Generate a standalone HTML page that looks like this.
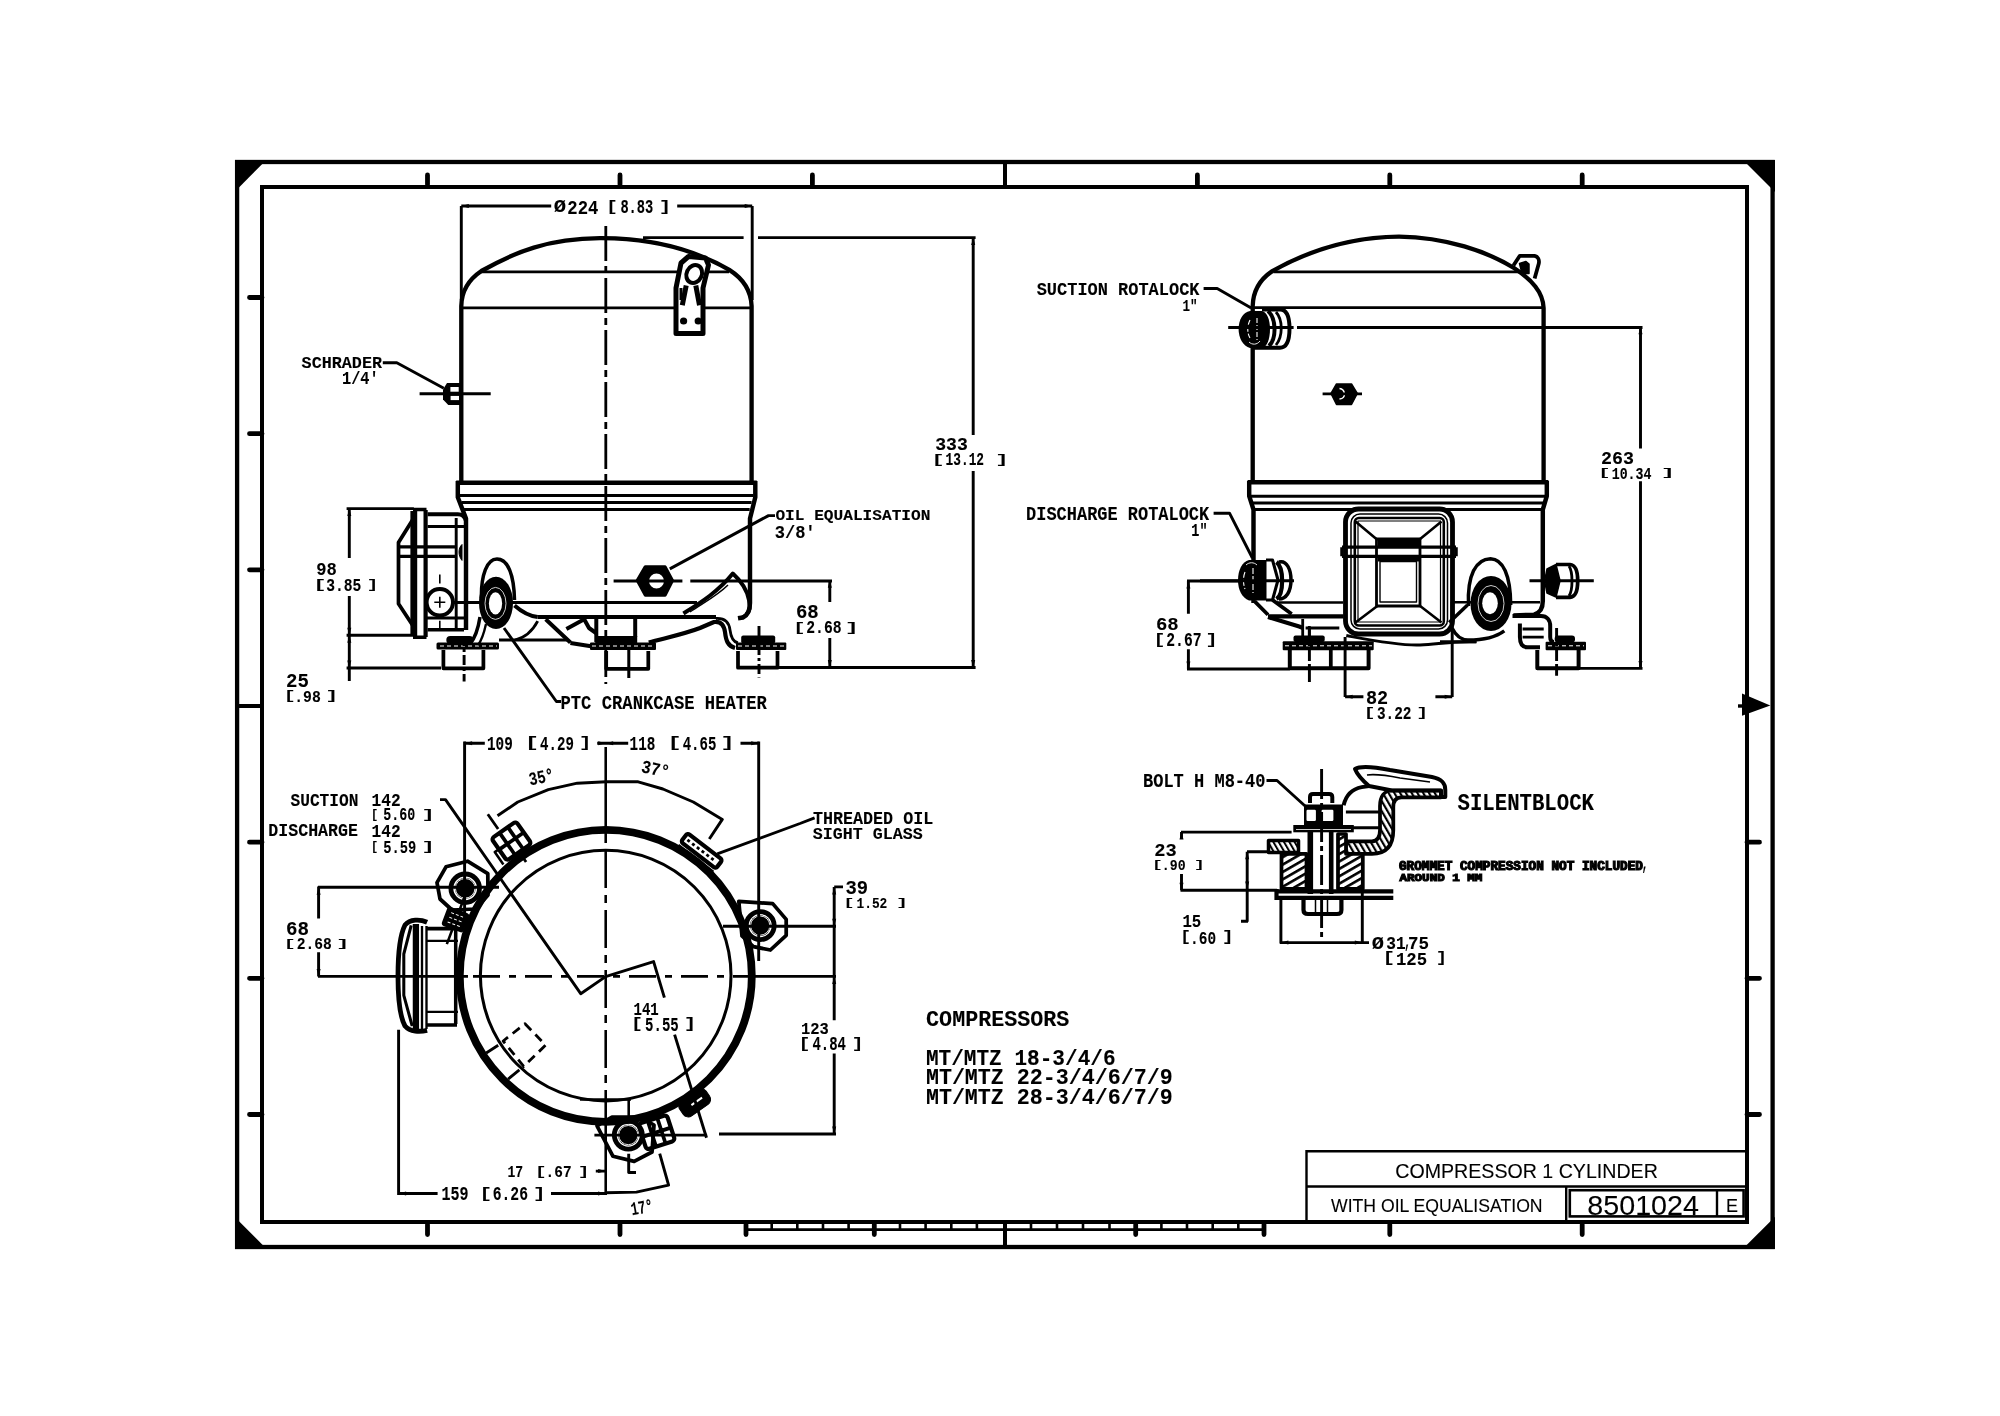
<!DOCTYPE html>
<html><head><meta charset="utf-8">
<style>
html,body{margin:0;padding:0;background:#fff;width:2000px;height:1416px;overflow:hidden}
svg{display:block;filter:grayscale(1)}
.c{font-family:"Liberation Mono",monospace;font-weight:bold}
.s{font-family:"Liberation Sans",sans-serif}
</style></head><body>
<svg width="2000" height="1416" viewBox="0 0 2000 1416">
<rect width="2000" height="1416" fill="#fff"/>
<!-- FRAME -->
<g id="frame" fill="none" stroke="#000">
<rect x="237.1" y="162" width="1535.5" height="1085" stroke-width="4.3"/>
<rect x="262" y="187" width="1485" height="1035" stroke-width="4"/>
<g stroke-width="4.8" stroke-linecap="round">
<path d="M427.5 175V184.5M620 175V184.5M812.4 175V184.5M1197.4 175V184.5M1389.8 175V184.5M1582.2 175V184.5"/>
<path d="M427.5 1224.5V1234.5M620 1224.5V1234.5M1389.8 1224.5V1234.5M1582.2 1224.5V1234.5"/>
<path d="M249.5 297.5H262M249.5 433.7H262M249.5 569.8H262M249.5 842.2H262M249.5 978.3H262M249.5 1114.5H262"/>
<path d="M1747 842.2H1759.5M1747 978.3H1759.5M1747 1114.5H1759.5"/>
</g>
<path d="M1005 162V187M1005 1222V1247M237 706H262" stroke-width="4"/>
<!-- bottom ruler -->
<path d="M746 1229.6H1264" stroke-width="2.6"/>
<path d="M771.7 1222V1229M797.3 1222V1229M823 1222V1229M848.6 1222V1229M900 1222V1229M925.6 1222V1229M951.3 1222V1229M976.9 1222V1229M1031 1222V1229M1057 1222V1229M1083 1222V1229M1109.5 1222V1229M1161.4 1222V1229M1187 1222V1229M1212.7 1222V1229M1238.3 1222V1229" stroke-width="2.6"/>
<path d="M746 1224.5V1234.5M874.3 1224.5V1234.5M1135.7 1224.5V1234.5M1264 1224.5V1234.5" stroke-width="4.8" stroke-linecap="round"/>
</g>
<g fill="#000">
<polygon points="235,160 266.3,160 235,191.4"/>
<polygon points="1743,160 1775,160 1775,192"/>
<polygon points="235,1217.3 235,1249 266.7,1249"/>
<polygon points="1775,1216.7 1775,1249 1742.7,1249"/>
<polygon points="1742,693.4 1770.3,705.4 1742,715.7"/>
<rect x="1738" y="704.3" width="5" height="3.4"/>
</g>

<!-- FRONT VIEW -->
<g id="fv" fill="none" stroke="#000" stroke-linejoin="round">
<path d="M461.3 483V306 C461.5 292 468 280 481.4 271 C515 252 548 238.5 600 238.2 C652 238 695 250 729.3 269.9 C742 278 751 290 751.6 306 V483" stroke-width="4.33"/>
<path d="M481 271.9H729M461.3 307.8H751.6" stroke-width="2.69"/>
<path d="M456.2 482.7H756.8" stroke-width="4.45"/>
<path d="M457.8 481V497.3L466 518.5V630" stroke-width="4.45"/>
<path d="M755.3 481V497.3L750 518.5V603 C750 610 748 615 743 617.5 L738 618.3" stroke-width="4.45"/>
<path d="M459.7 495.5H753.5M461.6 502.4H751.6M463.5 509.5H749.7" stroke-width="3.04"/>
<path d="M537.7 617H716" stroke-width="4.20"/>
<path d="M453.5 602.5H697" stroke-width="2.92"/>
<!-- center line -->
<path d="M605.8 226V684" stroke-width="2.81" stroke-dasharray="35 5 7 5"/>
<!-- oil eq nut -->
<polygon points="637.5,580.5 645.4,567 665,567 672.3,580.5 665,595 645.4,595" fill="#000" stroke-width="3.51"/>
<circle cx="656.5" cy="581" r="8.4" fill="#fff" stroke-width="1.8"/>
<path d="M613.6 581H682.4M690.3 581H832" stroke-width="2.92"/>
<path d="M669.8 568.9L768.5 515.6H775" stroke-width="2.92"/>
<!-- right bracket -->
<path d="M683.4 613.5 C700 603 718 592 732.8 573.6 C741 581 747 590 749 600 C751 609 748 615 742 617.5" stroke-width="3.98"/>
<path d="M690 612 C705 602 718 595 728 585" stroke-width="1.5"/>
<path d="M648.8 642.5 C665 638 684.5 634 700 628 L714 622 C721 621 724 625 725 632 C726 641 728 646 735 648" stroke-width="4.21"/>
<path d="M716 618.5 C724 618 729 622 730 630 C731 638 733 642 738 643" stroke-width="2.81"/>
<!-- middle bracket -->
<path d="M545.7 619.2L570.4 642.5M566.4 629L584.2 619.2L589 628L596 633M570.4 643L602 648" stroke-width="4"/>
<path d="M499 640H567.4" stroke-width="3"/>
<path d="M596.3 619V642M635.2 619V637" stroke-width="3.98"/>
<path d="M514.5 605.4 C522 612 530 616 537.7 617" stroke-width="3.98"/>
<path d="M537.7 621.2 C532 632 524 638 515 640" stroke-width="2.81"/>
<!-- feet -->
<g fill="#000" stroke="none">
<rect x="436.5" y="642.5" width="62.5" height="7" rx="1.5"/>
<rect x="446.3" y="636" width="27.2" height="8" rx="4"/>
<rect x="590" y="642.5" width="66" height="7.5" rx="1"/>
<rect x="595.2" y="636" width="42" height="8"/>
<rect x="736" y="642.5" width="50.3" height="7.5" rx="1"/>
<rect x="741.2" y="635.6" width="34" height="8" rx="2"/>
</g>
<path d="M440 646H497M592 646H654M738 646H785" stroke="#fff" stroke-width="1" stroke-dasharray="4 3"/>
<path d="M443.4 650V668.3H483.4V650M606.2 651V668.8H648.3V651M738 651V667.7H777.5V651" stroke-width="3.74"/>
<path d="M628.8 650V678" stroke-width="3.04"/>
<path d="M464.1 636V681.5M759 626V677.6" stroke-width="2.92" stroke-dasharray="10 3 3 3"/>
<!-- PTC heater -->
<path d="M481.4 598 C481 575 487 559 497 559 C508 559 514 575 514.5 600" stroke-width="3.51"/>
<ellipse cx="496" cy="602.9" rx="17" ry="26.2" fill="#000" stroke="none"/>
<ellipse cx="495.5" cy="603.4" rx="6.6" ry="11.2" fill="#fff" stroke="none"/>
<ellipse cx="495.5" cy="603.4" rx="10.5" ry="16" stroke="#fff" stroke-width="0.8"/>
<path d="M480 617 C478 630 475 638 470 644" stroke-width="3.51"/>
<path d="M486 624 C484 633 482 640 478 645" stroke-width="2.4"/>
<path d="M504 628L556.4 701.5H561" stroke-width="2.92"/>
<!-- terminal box -->
<path d="M413.8 518L398.5 542.4V603.8L413.8 627" stroke-width="3.74"/>
<path d="M413.8 511V636" stroke-width="6.83"/>
<path d="M425.6 510V637" stroke-width="4.20"/>
<path d="M413 509.5H426.5M413 637.3H426.5" stroke-width="3.51"/>
<path d="M427.6 514.3H457.8 C462 514.3 465 517 466 521" stroke-width="3.98"/>
<path d="M456.2 518V628M427.6 526.5H464M424 618H464" stroke-width="2.92"/>
<path d="M427.6 629.7H464" stroke-width="3.51"/>
<path d="M399 546.8H455M399 556.3H455" stroke-width="3.28"/>
<path d="M462 544.5 C458 548 458 556 462 560.4Z" fill="#000" stroke-width="1"/>
<circle cx="439.8" cy="602.2" r="13.2" stroke-width="3.98"/>
<path d="M434.3 602.2H445.3M439.8 596.7V607.7" stroke-width="1.6"/>
<path d="M439.8 574.6V583.6M439.8 620.7V628.7" stroke-width="1.6"/>
<!-- schrader -->
<polygon points="447,383 460,383 460,405 448.3,405 443,399.6 443,389.6" fill="#000" stroke="none"/>
<rect x="450.4" y="387" width="8.3" height="4.7" fill="#fff" stroke="none"/>
<rect x="450.6" y="395.9" width="8.4" height="4.2" fill="#fff" stroke="none"/>
<path d="M419.6 393.7H490.7" stroke-width="2.92"/>
<path d="M382.8 362.8H396.8L443.8 388.3" stroke-width="2.92"/>
<!-- terminal lug top -->
<path d="M676 333.5V288 L681 263 L688.5 256.5 L705.5 258 L708.5 265 L703 288 V333.5Z" fill="#fff" stroke-width="5"/>
<ellipse cx="694.2" cy="274" rx="7.6" ry="9.2" transform="rotate(25 694.2 274)" stroke-width="4"/>
<path d="M686.2 285.5L682.3 305.2M695.8 285.5L699.5 305.2" stroke-width="5"/>
<path d="M681 288V300" stroke-width="3"/>
<circle cx="683.6" cy="321" r="3.6" fill="#000" stroke="none"/>
<circle cx="698.2" cy="321" r="3.6" fill="#000" stroke="none"/>
<!-- dimensions -->
<g stroke-width="2.92">
<path d="M461.3 206V300M752.2 206V300"/>
<path d="M461.3 206H551.2M677.2 206H752.2"/>
<path d="M643 237.6H743.6M758 237.6H975.6M973.2 237.6V435M973.2 471V667.5M779 667.5H975.6"/>
<path d="M829.8 580.3V602M829.8 638V667.5"/>
<path d="M346.6 508.6H413.8M349.3 508.6V558M349.3 596V681M346.6 635.3H413M346.6 668H441"/>
</g>
</g>

<!-- SIDE VIEW -->
<g id="sv" fill="none" stroke="#000" stroke-linejoin="round">
<path d="M1252.7 483V306 C1253 293 1259 280 1272.3 271.1 C1308 251 1352 237 1399 236.6 C1446 237 1488 252 1514 268 C1532 280 1543 292 1543.6 308 V483" stroke-width="4.33"/>
<path d="M1273.5 271.8H1521M1252.7 307.6H1543.6" stroke-width="2.69"/>
<path d="M1247.6 482.2H1548.4" stroke-width="4.45"/>
<path d="M1249.2 481V496L1253.5 509.6V603" stroke-width="4.45"/>
<path d="M1546.8 481V496L1542.8 509.6V601 C1542.8 608 1540 613 1534 614.6 L1513.4 615.5" stroke-width="4.45"/>
<path d="M1249.8 496.2H1546.4M1251 503H1545.4M1252.5 509.6H1543.5" stroke-width="3.04"/>
<!-- top lug -->
<path d="M1513.4 265.5 L1519.8 255.8 H1534.6 C1538 256.5 1539.5 260 1538.8 263.5 L1534.6 278.5" stroke-width="3.8"/>
<path d="M1519.5 263.5 L1526 261.5 L1529 264 V273.5 L1522 273.5Z" fill="#000" stroke="#000" stroke-width="1.5"/>
<!-- suction rotalock -->
<path d="M1250 311 H1262 C1267 312 1270 320 1270 329 C1270 339 1267 347 1262 348 H1250 C1243 346 1238.6 338 1238.6 329 C1238.6 320 1243 312 1250 311Z" fill="#000" stroke="none"/>
<path d="M1262 309.5H1280 C1287 309.5 1289.5 317 1289.5 328.6 C1289.5 340 1287 347.8 1280 347.8H1252" stroke-width="3.98"/>
<path d="M1268 311 C1276 318 1277 338 1269 346" stroke-width="3.98"/>
<path d="M1276 312 C1283 320 1283 336 1276 345" stroke-width="2.81"/>
<path d="M1250 320 C1247 326 1247 333 1250 338M1257 318V340" stroke="#fff" stroke-width="1.1" stroke-dasharray="5 2"/>
<path d="M1249 342 C1252 345 1257 345 1260 341" stroke="#fff" stroke-width="0.9"/>
<path d="M1228.2 327.5H1293.6M1297 327.5H1642.5" stroke-width="2.92"/>
<path d="M1203.6 288.5H1217.2L1251.2 308" stroke-width="2.92"/>
<!-- schrader side -->
<polygon points="1331,393.5 1336.5,384 1351.5,384 1357.3,393.5 1351.5,404.5 1336.5,404.5" fill="#000" stroke="#000" stroke-width="1.5"/>
<path d="M1339.5 388.5 C1345 389 1347 398 1339.5 399" stroke="#fff" stroke-width="1.4"/>
<path d="M1322.6 393.9H1362" stroke-width="2.92"/>
<!-- discharge rotalock -->
<path d="M1249 560 H1266.5 V600.5 H1249 C1242 598 1238 590 1238 580.3 C1238 570 1242 562 1249 560Z" fill="#000" stroke="none"/>
<path d="M1266 560H1272.5 L1278 580 L1272.5 600H1266" stroke-width="3.04"/>
<path d="M1276.5 562 C1284 568 1284 594 1276.5 599" stroke-width="4.20"/>
<path d="M1279 562 C1287 560 1291 570 1291 580 C1291 592 1286 599 1279 599" stroke-width="3.51"/>
<path d="M1245 572 C1243 577 1243 584 1245 589M1253 568V593" stroke="#fff" stroke-width="1.1" stroke-dasharray="6 2"/>
<path d="M1246 565 C1249 562 1254 562 1257 565" stroke="#fff" stroke-width="0.9"/>
<path d="M1200 580.8H1294" stroke-width="2.92"/>
<path d="M1213.6 513.2H1229.5L1252.4 558" stroke-width="2.92"/>
<!-- bracket under discharge -->
<path d="M1254.7 601.4L1268 614.7M1272.5 599.9L1291.7 614" stroke-width="3.74"/>
<path d="M1268 616.3H1343.6" stroke-width="4.20"/>
<path d="M1277 602.5H1343" stroke-width="2.57"/>
<path d="M1268 617L1299.2 626.6 L1303 628" stroke-width="4.21"/>
<path d="M1305.6 628H1339.3M1302.7 619V636M1309.3 626V636" stroke-width="2.81"/>
<!-- terminal box -->
<rect x="1345.5" y="509" width="107" height="125" rx="13" stroke-width="4.83"/>
<rect x="1351" y="514" width="96.5" height="115" rx="9" stroke-width="1.5"/>
<rect x="1354.8" y="518" width="89" height="107.5" rx="4" stroke-width="2.57"/>
<rect x="1358" y="521" width="82.5" height="101" stroke-width="1.2"/>
<rect x="1376.5" y="539" width="43.5" height="67" stroke-width="2.81"/>
<rect x="1380" y="561.5" width="36.5" height="40.5" stroke-width="1.4"/>
<path d="M1355.5 521.5L1377 539.5M1441.5 521.5L1419.5 539.5M1355.5 622.5L1378 605.5M1441.5 622.5L1419.5 605.5" stroke-width="2.57"/>
<rect x="1378" y="538" width="41" height="8" fill="#000" stroke="none"/>
<rect x="1378" y="557" width="41" height="4.5" fill="#000" stroke="none"/>
<path d="M1342 547.2H1456M1342 556.3H1456" stroke-width="3.28"/>
<path d="M1342 547.2V556.3M1456 547.2V556.3" stroke-width="3.51"/>
<!-- right PTC -->
<path d="M1468.5 606 C1467 575 1476 559 1490.5 558.7 C1503 559 1510.5 575 1510.7 605" stroke-width="3.51"/>
<ellipse cx="1491" cy="603.5" rx="20.5" ry="27.5" fill="#000" stroke="none"/>
<ellipse cx="1490" cy="603.2" rx="7.8" ry="11" fill="#fff" stroke="none"/>
<ellipse cx="1491" cy="603.5" rx="13" ry="18" stroke="#fff" stroke-width="0.8"/>
<path d="M1452 628 C1456 636 1461 640 1468 640 C1482 640 1496 637 1504.3 630.8" stroke-width="3.51"/>
<path d="M1467.5 605 L1449.2 622.5" stroke-width="3.51"/>
<path d="M1453.8 602.3H1472M1510 602.3H1540" stroke-width="2.57"/>
<path d="M1440 641.8H1476.7" stroke-width="3.04"/>
<!-- right bracket -->
<path d="M1512.5 616H1541 C1547 616 1550.2 620 1550.2 626V637 C1550.2 640 1551 642 1554 642" stroke-width="3.98"/>
<path d="M1519.9 623.4V637 C1519.9 643 1522 647 1527.2 647.3 H1540" stroke-width="3.98"/>
<path d="M1522.6 629H1543.7M1522.6 637.2H1543.7" stroke-width="2.81"/>
<!-- right small fitting -->
<polygon points="1544.6,580.8 1547,569 1556,564.5 1560,580.8 1556,597 1547,593" fill="#000" stroke="#000" stroke-width="1.5"/>
<path d="M1556 564.5H1570 C1576 565 1577.7 572 1577.7 580.8 C1577.7 590 1576 597 1570 597.3H1556" stroke-width="3.74"/>
<path d="M1569 566 C1573 572 1573 590 1569 596" stroke-width="2.81"/>
<path d="M1529.5 580.8H1593.8" stroke-width="2.92"/>
<!-- feet -->
<g fill="#000" stroke="none">
<rect x="1282.7" y="641.3" width="91" height="9" rx="1"/>
<rect x="1293.5" y="635.6" width="31.2" height="6.5" rx="2"/>
<rect x="1545.6" y="641.8" width="40.4" height="8.5" rx="1"/>
<rect x="1554.7" y="635.4" width="20.3" height="7" rx="3"/>
</g>
<path d="M1285 645.8H1372M1548 645.8H1584" stroke="#fff" stroke-width="1" stroke-dasharray="4 3"/>
<path d="M1289.8 650V668.3H1368.6V650M1537.3 650V668.3H1578.6V650" stroke-width="3.98"/>
<path d="M1330.8 650V668" stroke-width="3.74"/>
<path d="M1309.4 628V683.3M1556.6 628V675.8" stroke-width="2.92" stroke-dasharray="12 3 3 3"/>
<path d="M1346.3 635.6 C1370 640 1400 646 1420 645 C1440 644 1450 641 1476 641.8" stroke-width="3.04"/>
<!-- dims -->
<g stroke-width="2.92">
<path d="M1640.5 326.8V448.6M1640.5 481.3V668.4M1578 668.4H1642.5"/>
<path d="M1188.4 581V613.8M1188.4 649.2V669M1187 581H1240M1187 669H1289.8"/>
<path d="M1345.1 637V697M1345.1 696.8H1363.4M1435.4 696.8H1452.2M1452.2 602V697"/>
</g>
</g>
<!-- TOP VIEW -->
<g id="tv" fill="none" stroke="#000" stroke-linejoin="round">
<circle cx="605.8" cy="975.8" r="146" stroke-width="7.77"/>
<circle cx="605.7" cy="975.6" r="125.3" stroke-width="3.04"/>
<!-- center lines -->
<path d="M605.7 747V842" stroke-width="2.57"/>
<path d="M605.7 842V1094" stroke-width="2.57" stroke-dasharray="38 7 8 7" stroke-dashoffset="-8"/>
<path d="M605.7 1094V1195" stroke-width="2.57"/>
<path d="M318 976.4H468" stroke-width="2.57"/>
<path d="M468 976.4H745" stroke-width="2.57" stroke-dasharray="27 9 7 9" stroke-dashoffset="-5"/>
<path d="M745 976.4H836" stroke-width="2.57"/>
<!-- feet -->
<g stroke-width="3.74">
<polygon points="437,882.7 446,866.8 467.5,861.2 487.8,873.6 488,895 476,909 452,910 440,899"/>
<polygon points="738.8,901.4 772.7,903.6 786.2,919.4 786.2,935.3 770.4,950 753.4,946.6 742,936"/>
<polygon points="597,1125.8 613,1156.3 634.2,1161.4 652,1152 654,1125 640,1117 612,1117"/>
</g>
<g stroke-width="4.83">
<circle cx="465.2" cy="888.3" r="14.3"/>
<circle cx="760.2" cy="925.6" r="14"/>
<circle cx="628.3" cy="1135.1" r="14"/>
</g>
<g fill="#000" stroke="none">
<circle cx="465.2" cy="888.3" r="10.5"/>
<circle cx="760.2" cy="925.6" r="10.3"/>
<circle cx="628.3" cy="1135.1" r="10.3"/>
</g>
<g stroke="#fff" stroke-width="0.9">
<circle cx="465.2" cy="888.3" r="9.8"/>
<circle cx="760.2" cy="925.6" r="9.6"/>
<circle cx="628.3" cy="1135.1" r="9.6"/>
</g>
<!-- suction fitting -->
<g transform="translate(605.8 975.8) rotate(-35)">
<rect x="-15" y="-178" width="30" height="27" rx="3" stroke-width="4.21"/>
<path d="M-15 -164.5H15M-5 -178V-151M5 -178V-151" stroke-width="3.74"/>
<path d="M-4 -200V-182M0 -149V-139" stroke-width="2.81"/>
<path d="M-20 -150V-165H-15" stroke-width="2.57"/>
</g>
<!-- discharge fitting -->
<g transform="translate(605.8 975.8) rotate(-69.5)">
<rect x="-9" y="-171" width="18" height="21" rx="2" fill="#000" stroke-width="2.34"/>
<path d="M-5 -167V-154M0 -167V-154M5 -167V-154" stroke="#fff" stroke-width="1" stroke-dasharray="3 2"/>
<path d="M-26 -160H-9M9 -160H24" stroke-width="2.57"/>
</g>
<!-- sight glass -->
<g transform="translate(605.8 975.8) rotate(37.5)">
<rect x="-22" y="-163" width="44" height="11" rx="2.5" stroke-width="4.21"/>
<path d="M-18 -157.5H18" stroke-width="2.81" stroke-dasharray="3 3"/>
<path d="M-22 -148H22" stroke-width="2.34"/>
</g>
<!-- bottom-right tab -->
<g transform="translate(605.8 975.8) rotate(145)">
<rect x="-16" y="-164" width="32" height="18" rx="6" fill="#000" stroke-width="1"/>
<path d="M-9 -155H4" stroke="#fff" stroke-width="2"/>
</g>
<!-- bottom fitting -->
<g transform="translate(605.8 975.8) rotate(162)">
<rect x="-15" y="-178" width="30" height="27" rx="3" stroke-width="4.21"/>
<path d="M-15 -164.5H15M-5 -178V-151M5 -178V-151" stroke-width="3.74"/>
</g>
<!-- terminal box -->
<path d="M427.1 922.2 C420 919 410 919 405 925 C400 935 398 950 398 976 C398 1002 400 1017 405 1026 C410 1032 420 1032 427.1 1030.3" stroke-width="4.83"/>
<path d="M411.2 925.4L403.8 954V995.3L412.2 1026" stroke-width="3.04"/>
<path d="M415.9 924V1031.4" stroke-width="6.30"/>
<path d="M422 926V1029M426.5 926V1029" stroke-width="2.34"/>
<path d="M427 928.6H457M427 1025H457" stroke-width="3.74"/>
<path d="M427 940.8H458M427 1011.8H458" stroke-width="2.34"/>
<path d="M455.7 926V1024" stroke-width="3.51"/>
<path d="M580 1099.5H631M628.7 1099.5V1117.3" stroke-width="2.57"/>
<!-- dashed square -->
<polygon points="525,1023.7 545.6,1045.2 523.7,1066.4 503.2,1041" stroke-width="2.81" stroke-dasharray="9 6" stroke-linejoin="round"/>
<path d="M486.2 1053L498.2 1045.2M508.1 1079.1L519.4 1069.9" stroke-width="2.81"/>
<!-- dims -->
<g stroke-width="2.92">
<path d="M463.9 743.2H484.8M597.2 743.2H628.2M740.5 743.2H759.1"/>
<path d="M464.6 741.6V921.7M758.7 741.6V961"/>
<path d="M318.6 886.4V918.6M318.6 952.2V976.4M318 887.2H499"/>
<path d="M398.6 1029.7V1195M398.4 1193.5H437.6M551 1193.5H605.6"/>
<path d="M595.8 1171.1H605.6M628.7 1153.7V1172.5H636"/>
<path d="M834.2 886.9V1020.2M834.2 1053.4V1134M834.2 886.9H843M723 926.2H836M719 1134H836M594.4 1135.1H707.1"/>
<path d="M605.6 1192.8L636.4 1192.1L668.6 1185.1L659.7 1153.7"/>
<path d="M497.5 815.8L517.8 802L548.3 789.7L577.3 783.2L606.3 781.8L638.2 781.8L662.9 789L693.3 802L722.3 819.4L709.3 839"/>
<path d="M440 799.6H445.5L580.7 993.7L605.6 976.6L653.6 961.6L664.4 997.6M674.6 1034.6L706.5 1137.7"/>
<path d="M800 823.5L814.6 817.9M800 823.5L717.3 853.9"/>
</g>
</g>
<!-- SILENTBLOCK -->
<defs>
<pattern id="hatch" patternUnits="userSpaceOnUse" width="4.6" height="4.6" patternTransform="rotate(-30)">
<rect width="4.6" height="4.6" fill="#fff"/>
<rect width="2" height="4.6" fill="#000"/>
</pattern>
<pattern id="hatch2" patternUnits="userSpaceOnUse" width="5" height="5" patternTransform="rotate(-30)">
<rect width="5" height="5" fill="#fff"/>
<rect width="2.2" height="5" fill="#000"/>
</pattern>
<pattern id="hatch3" patternUnits="userSpaceOnUse" width="6.4" height="6.4" patternTransform="rotate(60)">
<rect width="6.4" height="6.4" fill="#fff"/>
<rect width="2.6" height="6.4" fill="#000"/>
</pattern>
</defs>
<g id="sb" fill="none" stroke="#000" stroke-linejoin="round">
<!-- bracket (hatched) -->
<path d="M1345.9 841.4H1372 C1377 841 1380 837 1380 830V806 C1380 797 1384 790.5 1392 790.5H1441 V797.3H1401.5 C1396 797.3 1393.3 801 1393.3 807V830 C1393.3 846 1386 853.8 1372 853.8H1345.9Z" fill="url(#hatch2)" stroke-width="3.74"/>
<path d="M1355 769 C1360 766 1372 766.5 1390 770 L1432 777 C1442 779 1445.3 783 1445.3 790 V797 H1441 V790.5 H1392 L1369 786 C1362 780 1357 774 1355 769Z" stroke-width="3.98"/>
<path d="M1367 775 C1375 774 1390 776 1400 778 L1430 782" stroke-width="1.6"/>
<path d="M1343.6 805.2 C1346 795 1352 789 1361.7 787.1 L1369 786" stroke-width="3.98"/>
<path d="M1345.9 812H1380M1345.9 827.8H1380" stroke-width="3.04"/>
<!-- nut top -->
<path d="M1310 803V797 C1310 795 1311 793.9 1313 793.9H1329 C1331 793.9 1332.3 795 1332.3 797V803" stroke-width="3.98"/>
<rect x="1304" y="804.5" width="39" height="22" fill="#000" stroke="none"/>
<rect x="1306.5" y="809.7" width="9.4" height="11.3" rx="1.2" fill="#fff" stroke="none"/>
<rect x="1321.6" y="809.7" width="11.8" height="11.3" rx="1.2" fill="#fff" stroke="none"/>
<rect x="1293.3" y="825" width="60.5" height="7.3" fill="#000" stroke="none"/>
<path d="M1296 829.5H1351" stroke="#fff" stroke-width="0.8"/>
<!-- flange left -->
<rect x="1268.5" y="840.5" width="30" height="12" fill="url(#hatch)" stroke-width="3.51"/>
<!-- bushings -->
<rect x="1281.5" y="853.8" width="25" height="35" fill="url(#hatch3)" stroke-width="3.74"/>
<path d="M1338 834H1346V853.8H1362.8V888.8H1338Z" fill="url(#hatch3)" stroke-width="3.74"/>
<!-- bolt -->
<rect x="1307.5" y="832" width="5.6" height="62" fill="#000" stroke="none"/>
<rect x="1328.9" y="832" width="4.6" height="62" fill="#000" stroke="none"/>
<!-- base plates -->
<path d="M1276.5 891.3H1393.3M1276.5 897.8H1393.3" stroke-width="4.21"/>
<path d="M1276.5 889V900" stroke-width="4.20"/>
<!-- bottom nut -->
<path d="M1303.5 900V910 C1303.5 913 1305 914 1308 914H1337 C1340 914 1341.4 913 1341.4 910V900" stroke-width="4.21"/>
<path d="M1315.5 900V912M1327.5 900V912" stroke-width="1.5"/>
<!-- center line -->
<path d="M1321.6 769V937" stroke-width="2.92" stroke-dasharray="30 4 5 4"/>
<!-- dims -->
<g stroke-width="2.92">
<path d="M1266.5 780.5H1277L1306.2 807"/>
<path d="M1181.5 832.1V838.8M1181.5 874V890.3M1181 832.1H1291.6M1180.5 890.3H1277"/>
<path d="M1247.2 851.7V921.7M1247 851.7H1268M1241 921.3H1248"/>
<path d="M1280.9 900V943M1362.3 890V943M1279.7 942.6H1369"/>
</g>
</g>
<!-- ARROWS -->
<g fill="#000">
<polygon points="461.3,206.0 468.8,204.0 468.8,208.0"/>
<polygon points="752.2,206.0 744.7,208.0 744.7,204.0"/>
<polygon points="973.2,237.6 975.2,245.1 971.2,245.1"/>
<polygon points="973.2,667.5 971.2,660.0 975.2,660.0"/>
<polygon points="829.8,580.3 831.8,587.8 827.8,587.8"/>
<polygon points="829.8,667.5 827.8,660.0 831.8,660.0"/>
<polygon points="349.3,508.6 351.3,516.1 347.3,516.1"/>
<polygon points="349.3,635.3 347.3,627.8 351.3,627.8"/>
<polygon points="349.3,635.3 351.3,642.8 347.3,642.8"/>
<polygon points="349.3,668.0 347.3,660.5 351.3,660.5"/>
<polygon points="1640.5,326.8 1642.5,334.3 1638.5,334.3"/>
<polygon points="1640.5,668.4 1638.5,660.9 1642.5,660.9"/>
<polygon points="1188.4,581.0 1190.4,588.5 1186.4,588.5"/>
<polygon points="1188.4,669.0 1186.4,661.5 1190.4,661.5"/>
<polygon points="1345.1,696.8 1352.6,694.8 1352.6,698.8"/>
<polygon points="1452.2,696.8 1444.7,698.8 1444.7,694.8"/>
<polygon points="464.6,743.2 472.1,741.2 472.1,745.2"/>
<polygon points="605.7,743.2 598.2,745.2 598.2,741.2"/>
<polygon points="605.7,743.2 613.2,741.2 613.2,745.2"/>
<polygon points="758.7,743.2 751.2,745.2 751.2,741.2"/>
<polygon points="318.6,887.2 320.6,894.7 316.6,894.7"/>
<polygon points="318.6,976.4 316.6,968.9 320.6,968.9"/>
<polygon points="398.6,1193.5 406.1,1191.5 406.1,1195.5"/>
<polygon points="605.6,1193.5 598.1,1195.5 598.1,1191.5"/>
<polygon points="834.2,886.9 836.2,894.4 832.2,894.4"/>
<polygon points="834.2,926.2 832.2,918.7 836.2,918.7"/>
<polygon points="834.2,976.4 836.2,983.9 832.2,983.9"/>
<polygon points="834.2,1134.0 832.2,1126.5 836.2,1126.5"/>
<polygon points="605.6,1171.1 598.1,1173.1 598.1,1169.1"/>
<polygon points="1181.5,832.1 1183.5,839.6 1179.5,839.6"/>
<polygon points="1181.5,890.3 1179.5,882.8 1183.5,882.8"/>
<polygon points="1247.2,851.7 1249.2,859.2 1245.2,859.2"/>
<polygon points="1247.2,889.0 1245.2,881.5 1249.2,881.5"/>
<polygon points="1280.9,942.6 1288.4,940.6 1288.4,944.6"/>
<polygon points="1362.3,942.6 1354.8,944.6 1354.8,940.6"/>
</g>
<!-- TEXTS -->
<g class="c" fill="#000" stroke="#000" stroke-width="0.1">
<text x="553.4" y="212.3" font-size="22.27" textLength="12.8" lengthAdjust="spacingAndGlyphs">ø</text>
<text x="567.3" y="213.6" font-size="20.37" textLength="31.0" lengthAdjust="spacingAndGlyphs">224</text>
<text x="606.2" y="210.5" font-size="14.49" textLength="11.4" lengthAdjust="spacingAndGlyphs">[</text>
<text x="620.4" y="213.3" font-size="20.07" textLength="32.9" lengthAdjust="spacingAndGlyphs">8.83</text>
<text x="658.9" y="210.5" font-size="14.49" textLength="12.1" lengthAdjust="spacingAndGlyphs">]</text>
<text x="301.6" y="368.1" font-size="17.21" textLength="80.4" lengthAdjust="spacingAndGlyphs">SCHRADER</text>
<text x="342.0" y="384.3" font-size="17.96" textLength="36.7" lengthAdjust="spacingAndGlyphs">1/4′</text>
<text x="316.3" y="574.8" font-size="19.12" textLength="20.6" lengthAdjust="spacingAndGlyphs">98</text>
<text x="313.3" y="587.9" font-size="13.37" textLength="13.2" lengthAdjust="spacingAndGlyphs">[</text>
<text x="326.3" y="590.6" font-size="18.38" textLength="35.1" lengthAdjust="spacingAndGlyphs">3.85</text>
<text x="366.8" y="587.9" font-size="13.37" textLength="11.7" lengthAdjust="spacingAndGlyphs">]</text>
<text x="286.1" y="687.4" font-size="20.00" textLength="22.9" lengthAdjust="spacingAndGlyphs">25</text>
<text x="283.7" y="699.2" font-size="12.41" textLength="11.8" lengthAdjust="spacingAndGlyphs">[</text>
<text x="294.2" y="701.6" font-size="17.06" textLength="26.6" lengthAdjust="spacingAndGlyphs">.98</text>
<text x="325.4" y="699.2" font-size="12.41" textLength="12.6" lengthAdjust="spacingAndGlyphs">]</text>
<text x="935.2" y="450.4" font-size="17.65" textLength="32.7" lengthAdjust="spacingAndGlyphs">333</text>
<text x="931.5" y="462.9" font-size="13.05" textLength="13.0" lengthAdjust="spacingAndGlyphs">[</text>
<text x="945.6" y="465.4" font-size="17.94" textLength="38.4" lengthAdjust="spacingAndGlyphs">13.12</text>
<text x="995.2" y="462.9" font-size="13.05" textLength="13.4" lengthAdjust="spacingAndGlyphs">]</text>
<text x="795.9" y="617.6" font-size="19.71" textLength="22.8" lengthAdjust="spacingAndGlyphs">68</text>
<text x="793.3" y="630.8" font-size="13.48" textLength="12.2" lengthAdjust="spacingAndGlyphs">[</text>
<text x="806.3" y="633.4" font-size="18.53" textLength="35.3" lengthAdjust="spacingAndGlyphs">2.68</text>
<text x="845.1" y="630.8" font-size="13.48" textLength="13.8" lengthAdjust="spacingAndGlyphs">]</text>
<text x="775.4" y="520.1" font-size="14.28" textLength="155.0" lengthAdjust="spacingAndGlyphs">OIL EQUALISATION</text>
<text x="774.7" y="537.5" font-size="17.96" textLength="40.9" lengthAdjust="spacingAndGlyphs">3/8′</text>
<text x="560.4" y="708.5" font-size="19.41" textLength="206.4" lengthAdjust="spacingAndGlyphs">PTC CRANKCASE HEATER</text>
<text x="1036.7" y="294.5" font-size="17.94" textLength="162.8" lengthAdjust="spacingAndGlyphs">SUCTION ROTALOCK</text>
<text x="1182.4" y="310.6" font-size="16.41" textLength="15.1" lengthAdjust="spacingAndGlyphs">1″</text>
<text x="1026.1" y="519.6" font-size="19.41" textLength="183.1" lengthAdjust="spacingAndGlyphs">DISCHARGE ROTALOCK</text>
<text x="1191.3" y="535.8" font-size="18.28" textLength="16.2" lengthAdjust="spacingAndGlyphs">1″</text>
<text x="1155.9" y="629.8" font-size="18.82" textLength="22.8" lengthAdjust="spacingAndGlyphs">68</text>
<text x="1153.5" y="643.5" font-size="14.55" textLength="11.8" lengthAdjust="spacingAndGlyphs">[</text>
<text x="1166.3" y="646.4" font-size="20.00" textLength="35.2" lengthAdjust="spacingAndGlyphs">2.67</text>
<text x="1205.5" y="643.5" font-size="14.55" textLength="12.2" lengthAdjust="spacingAndGlyphs">]</text>
<text x="1600.9" y="463.7" font-size="18.38" textLength="33.0" lengthAdjust="spacingAndGlyphs">263</text>
<text x="1598.3" y="476.4" font-size="11.55" textLength="12.2" lengthAdjust="spacingAndGlyphs">[</text>
<text x="1611.7" y="478.6" font-size="15.88" textLength="39.8" lengthAdjust="spacingAndGlyphs">10.34</text>
<text x="1661.1" y="476.4" font-size="11.55" textLength="14.0" lengthAdjust="spacingAndGlyphs">]</text>
<text x="1366.0" y="703.5" font-size="19.85" textLength="22.2" lengthAdjust="spacingAndGlyphs">82</text>
<text x="1363.8" y="716.2" font-size="13.48" textLength="11.6" lengthAdjust="spacingAndGlyphs">[</text>
<text x="1376.9" y="718.8" font-size="18.53" textLength="34.5" lengthAdjust="spacingAndGlyphs">3.22</text>
<text x="1416.5" y="716.2" font-size="13.48" textLength="11.6" lengthAdjust="spacingAndGlyphs">]</text>
<text x="487.0" y="749.9" font-size="20.44" textLength="25.8" lengthAdjust="spacingAndGlyphs">109</text>
<text x="524.7" y="747.0" font-size="14.87" textLength="14.2" lengthAdjust="spacingAndGlyphs">[</text>
<text x="540.1" y="749.9" font-size="20.44" textLength="33.8" lengthAdjust="spacingAndGlyphs">4.29</text>
<text x="579.1" y="747.0" font-size="14.87" textLength="12.6" lengthAdjust="spacingAndGlyphs">]</text>
<text x="629.6" y="749.9" font-size="20.44" textLength="25.7" lengthAdjust="spacingAndGlyphs">118</text>
<text x="667.4" y="747.0" font-size="14.87" textLength="14.0" lengthAdjust="spacingAndGlyphs">[</text>
<text x="682.7" y="749.9" font-size="20.44" textLength="33.7" lengthAdjust="spacingAndGlyphs">4.65</text>
<text x="720.5" y="747.0" font-size="14.87" textLength="14.2" lengthAdjust="spacingAndGlyphs">]</text>
<text x="290.5" y="805.8" font-size="18.68" textLength="67.9" lengthAdjust="spacingAndGlyphs">SUCTION</text>
<text x="371.5" y="806.0" font-size="18.96" textLength="29.1" lengthAdjust="spacingAndGlyphs">142</text>
<text x="370.9" y="817.7" font-size="13.05" textLength="7.1" lengthAdjust="spacingAndGlyphs">[</text>
<text x="383.3" y="820.2" font-size="17.94" textLength="32.0" lengthAdjust="spacingAndGlyphs">5.60</text>
<text x="421.4" y="817.7" font-size="13.05" textLength="13.4" lengthAdjust="spacingAndGlyphs">]</text>
<text x="268.3" y="836.4" font-size="18.68" textLength="89.7" lengthAdjust="spacingAndGlyphs">DISCHARGE</text>
<text x="371.5" y="836.6" font-size="18.96" textLength="29.1" lengthAdjust="spacingAndGlyphs">142</text>
<text x="370.9" y="849.9" font-size="13.58" textLength="7.1" lengthAdjust="spacingAndGlyphs">[</text>
<text x="383.3" y="852.6" font-size="18.68" textLength="33.0" lengthAdjust="spacingAndGlyphs">5.59</text>
<text x="421.4" y="849.9" font-size="13.58" textLength="13.4" lengthAdjust="spacingAndGlyphs">]</text>
<text x="812.9" y="823.8" font-size="17.94" textLength="120.4" lengthAdjust="spacingAndGlyphs">THREADED OIL</text>
<text x="812.7" y="838.8" font-size="17.35" textLength="110.0" lengthAdjust="spacingAndGlyphs">SIGHT GLASS</text>
<text x="845.4" y="894.0" font-size="19.71" textLength="22.7" lengthAdjust="spacingAndGlyphs">39</text>
<text x="843.5" y="905.6" font-size="11.23" textLength="10.8" lengthAdjust="spacingAndGlyphs">[</text>
<text x="856.5" y="907.8" font-size="15.44" textLength="30.8" lengthAdjust="spacingAndGlyphs">1.52</text>
<text x="896.3" y="905.6" font-size="11.23" textLength="11.6" lengthAdjust="spacingAndGlyphs">]</text>
<text x="286.0" y="935.2" font-size="20.00" textLength="23.0" lengthAdjust="spacingAndGlyphs">68</text>
<text x="283.7" y="946.6" font-size="11.55" textLength="11.8" lengthAdjust="spacingAndGlyphs">[</text>
<text x="296.7" y="948.8" font-size="15.88" textLength="35.1" lengthAdjust="spacingAndGlyphs">2.68</text>
<text x="336.3" y="946.6" font-size="11.55" textLength="13.0" lengthAdjust="spacingAndGlyphs">]</text>
<text x="633.5" y="1014.8" font-size="19.09" textLength="25.3" lengthAdjust="spacingAndGlyphs">141</text>
<text x="630.9" y="1028.0" font-size="14.33" textLength="11.8" lengthAdjust="spacingAndGlyphs">[</text>
<text x="645.1" y="1030.8" font-size="20.00" textLength="33.6" lengthAdjust="spacingAndGlyphs">5.55</text>
<text x="684.1" y="1028.0" font-size="14.33" textLength="12.2" lengthAdjust="spacingAndGlyphs">]</text>
<text x="801.0" y="1034.4" font-size="16.47" textLength="27.8" lengthAdjust="spacingAndGlyphs">123</text>
<text x="798.5" y="1047.6" font-size="14.12" textLength="11.8" lengthAdjust="spacingAndGlyphs">[</text>
<text x="812.5" y="1050.4" font-size="19.41" textLength="33.5" lengthAdjust="spacingAndGlyphs">4.84</text>
<text x="851.7" y="1047.6" font-size="14.12" textLength="11.8" lengthAdjust="spacingAndGlyphs">]</text>
<text x="507.4" y="1177.4" font-size="16.97" textLength="15.7" lengthAdjust="spacingAndGlyphs">17</text>
<text x="535.0" y="1174.9" font-size="11.98" textLength="11.4" lengthAdjust="spacingAndGlyphs">[</text>
<text x="545.6" y="1177.2" font-size="16.47" textLength="26.0" lengthAdjust="spacingAndGlyphs">.67</text>
<text x="578.0" y="1174.9" font-size="11.98" textLength="11.4" lengthAdjust="spacingAndGlyphs">]</text>
<text x="441.5" y="1200.3" font-size="19.56" textLength="27.1" lengthAdjust="spacingAndGlyphs">159</text>
<text x="479.3" y="1197.5" font-size="14.22" textLength="12.8" lengthAdjust="spacingAndGlyphs">[</text>
<text x="492.7" y="1200.3" font-size="19.56" textLength="35.3" lengthAdjust="spacingAndGlyphs">6.26</text>
<text x="532.9" y="1197.5" font-size="14.22" textLength="12.8" lengthAdjust="spacingAndGlyphs">]</text>
<text x="1143.0" y="787.2" font-size="20.07" textLength="122.5" lengthAdjust="spacingAndGlyphs">BOLT H M8-40</text>
<text x="1457.5" y="810.4" font-size="23.09" textLength="136.5" lengthAdjust="spacingAndGlyphs">SILENTBLOCK</text>
<text x="1399.0" y="869.7" font-size="11.91" textLength="244.0" lengthAdjust="spacingAndGlyphs" stroke-width="1.1">GROMMET COMPRESSION NOT INCLUDED</text>
<text x="1641.7" y="868.9" font-size="20.00" textLength="6.4" lengthAdjust="spacingAndGlyphs">,</text>
<text x="1399.5" y="881.2" font-size="10.88" textLength="82.9" lengthAdjust="spacingAndGlyphs" stroke-width="1.1">AROUND 1 MM</text>
<text x="1154.2" y="856.2" font-size="18.82" textLength="22.5" lengthAdjust="spacingAndGlyphs">23</text>
<text x="1152.1" y="867.9" font-size="11.23" textLength="10.6" lengthAdjust="spacingAndGlyphs">[</text>
<text x="1161.8" y="870.1" font-size="15.44" textLength="23.8" lengthAdjust="spacingAndGlyphs">.90</text>
<text x="1194.0" y="867.9" font-size="11.23" textLength="10.8" lengthAdjust="spacingAndGlyphs">]</text>
<text x="1182.4" y="927.3" font-size="18.51" textLength="18.9" lengthAdjust="spacingAndGlyphs">15</text>
<text x="1180.2" y="940.8" font-size="13.80" textLength="10.6" lengthAdjust="spacingAndGlyphs">[</text>
<text x="1190.1" y="943.5" font-size="18.97" textLength="26.0" lengthAdjust="spacingAndGlyphs">.60</text>
<text x="1222.0" y="940.8" font-size="13.80" textLength="11.6" lengthAdjust="spacingAndGlyphs">]</text>
<text x="1371.4" y="948.7" font-size="22.91" textLength="12.7" lengthAdjust="spacingAndGlyphs">ø</text>
<text x="1386.3" y="948.5" font-size="18.24" textLength="19.4" lengthAdjust="spacingAndGlyphs">31</text>
<text x="1404.2" y="947.0" font-size="20.62" textLength="6.4" lengthAdjust="spacingAndGlyphs">,</text>
<text x="1407.9" y="948.5" font-size="18.51" textLength="21.0" lengthAdjust="spacingAndGlyphs">75</text>
<text x="1382.6" y="962.2" font-size="14.01" textLength="12.4" lengthAdjust="spacingAndGlyphs">[</text>
<text x="1396.0" y="964.9" font-size="19.26" textLength="31.1" lengthAdjust="spacingAndGlyphs">125</text>
<text x="1436.0" y="962.2" font-size="14.01" textLength="11.0" lengthAdjust="spacingAndGlyphs">]</text>
<text x="926.1" y="1025.8" font-size="22.06" textLength="143.3" lengthAdjust="spacingAndGlyphs">COMPRESSORS</text>
<text x="925.9" y="1064.8" font-size="21.43" textLength="189.7" lengthAdjust="spacingAndGlyphs">MT/MTZ 18-3/4/6</text>
<text x="925.9" y="1084.3" font-size="21.43" textLength="246.9" lengthAdjust="spacingAndGlyphs">MT/MTZ 22-3/4/6/7/9</text>
<text x="925.9" y="1103.8" font-size="21.43" textLength="246.9" lengthAdjust="spacingAndGlyphs">MT/MTZ 28-3/4/6/7/9</text>
<g transform="rotate(-12 540.6 777)"><text x="528.8" y="783.3" font-size="18.44" textLength="25.2" lengthAdjust="spacingAndGlyphs">35°</text></g>
<g transform="rotate(12 655 768.7)"><text x="641.6" y="775.0" font-size="18.30" textLength="28.2" lengthAdjust="spacingAndGlyphs">37°</text></g>
<g transform="rotate(-10 641.3 1207)"><text x="630.7" y="1213.5" font-size="18.71" textLength="22.2" lengthAdjust="spacingAndGlyphs">17°</text></g>
</g>
<!-- TITLE BLOCK -->
<g fill="none" stroke="#000">
<path d="M1306.5 1222V1151.3H1747M1306.5 1186.5H1747M1566.2 1186.5V1222" stroke-width="2.4"/>
<rect x="1569.8" y="1190.2" width="173.8" height="26.2" stroke-width="2.6"/>
<path d="M1717 1190.2V1216.4" stroke-width="2.4"/>
</g>
<g class="s" fill="#000" stroke="#000" stroke-width="0.1">
<text x="1395.3" y="1177.6" font-size="20" textLength="262.5" lengthAdjust="spacingAndGlyphs">COMPRESSOR 1 CYLINDER</text>
<text x="1331" y="1211.7" font-size="18" textLength="211.6" lengthAdjust="spacingAndGlyphs">WITH OIL EQUALISATION</text>
<text x="1587.3" y="1214.7" font-size="28" textLength="111.7" lengthAdjust="spacingAndGlyphs">8501024</text>
<text x="1726" y="1211.7" font-size="18">E</text>
</g>
</svg>
</body></html>
